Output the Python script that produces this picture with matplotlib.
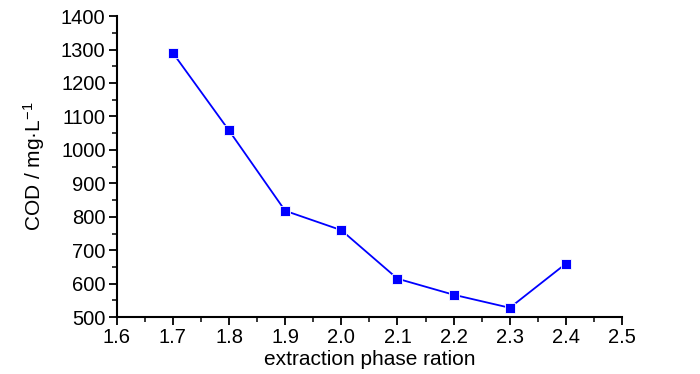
import matplotlib
matplotlib.use("Agg")
import matplotlib.pyplot as plt
from matplotlib.ticker import MultipleLocator, FormatStrFormatter

ratio = [1.7, 1.8, 1.9, 2.0, 2.1, 2.2, 2.3, 2.4]
cod = [1290, 1058, 818, 760, 615, 567, 528, 660]

plt.rcParams['font.family'] = ['Liberation Sans Narrow', 'Liberation Sans', 'DejaVu Sans']
plt.rcParams['mathtext.fontset'] = 'custom'
plt.rcParams['mathtext.rm'] = 'Liberation Sans'
plt.rcParams['mathtext.default'] = 'regular'

fig = plt.figure(figsize=(7.0, 3.74), dpi=100)
ax = fig.add_axes([0.1667, 0.152, 0.722, 0.805])
ax.plot(ratio, cod, color='#0000ff', lw=1.3, marker='s', markersize=7,
        markerfacecolor='#0000ff', markeredgecolor='white', markeredgewidth=0.6)

ax.set_xlim(1.6, 2.5)
ax.set_ylim(500, 1400)
ax.xaxis.set_major_locator(MultipleLocator(0.1))
ax.xaxis.set_minor_locator(MultipleLocator(0.05))
ax.yaxis.set_major_locator(MultipleLocator(100))
ax.yaxis.set_minor_locator(MultipleLocator(50))
ax.xaxis.set_major_formatter(FormatStrFormatter('%.1f'))
for s in ['top', 'right']:
    ax.spines[s].set_visible(False)
for s in ['left', 'bottom']:
    ax.spines[s].set_linewidth(1.5)
ax.tick_params(which='major', direction='out', length=6, width=1.3, labelsize=14.5, pad=2)
ax.tick_params(which='minor', direction='out', length=3.5, width=1.1)
ax.set_xlabel('extraction phase ration', fontsize=15, labelpad=2)
ax.set_ylabel('COD / mg·L$^{-1}$', fontsize=15, labelpad=10)

fig.savefig('out.png', dpi=100)
